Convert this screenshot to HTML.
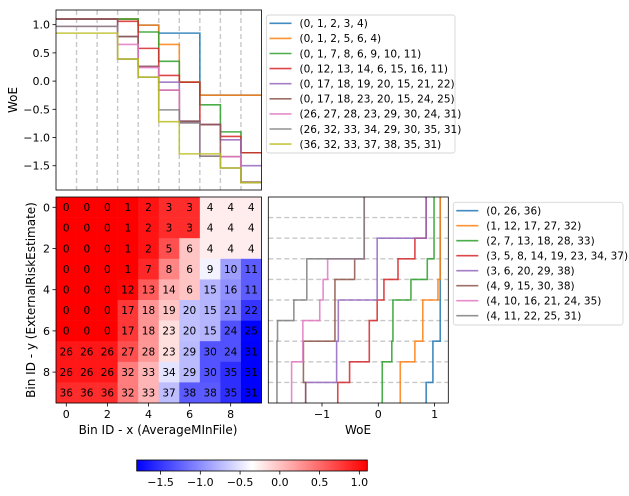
<!DOCTYPE html>
<html><head><meta charset="utf-8"><style>
body{margin:0;background:#fff;}
svg{display:block;font-family:"DejaVu Sans","Liberation Sans",sans-serif;}
</style></head><body>
<svg id="c" width="629" height="496" viewBox="0 0 629 496"></svg>
<script>
const woe = [1.10,1.10,0.99,0.85,-0.25,0.65,-0.02,0.87,0.35,-0.42,-0.90,-1.27,1.06,0.58,0.10,-0.77,-0.98,0.79,0.26,-0.02,-0.71,-1.04,-1.50,-0.16,-1.34,-1.79,0.97,0.65,0.24,-0.74,-1.33,-1.80,0.39,0.07,-0.51,-1.54,0.85,-0.72,-1.29];
const grid = [
[0,0,0,1,2,3,3,4,4,4],
[0,0,0,1,2,3,3,4,4,4],
[0,0,0,1,2,5,6,4,4,4],
[0,0,0,1,7,8,6,9,10,11],
[0,0,0,12,13,14,6,15,16,11],
[0,0,0,17,18,19,20,15,21,22],
[0,0,0,17,18,23,20,15,24,25],
[26,26,26,27,28,23,29,30,24,31],
[26,26,26,32,33,34,29,30,35,31],
[36,36,36,32,33,37,38,38,35,31]];
const topTicks = [1.0,0.5,0.0,-0.5,-1.0,-1.5];
const heatTicks = [0,2,4,6,8];
const rightTicks = [-1,0,1];
const cbTicks = [-1.5,-1.0,-0.5,0.0,0.5,1.0];
const colors = ['#1f77b4','#ff7f0e','#2ca02c','#d62728','#9467bd','#8c564b','#e377c2','#7f7f7f','#bcbd22'];

const NS='http://www.w3.org/2000/svg';
const svg=document.getElementById('c');
function mk(tag,attrs,parent){const e=document.createElementNS(NS,tag);for(const k in attrs)e.setAttribute(k,attrs[k]);(parent||svg).appendChild(e);return e;}
function txt(s,attrs,parent){const e=mk('text',attrs,parent);e.textContent=s;return e;}
function fmt(v){return (v<0?'\u2212':'')+Math.abs(v).toFixed(1);}
function uniqSeq(a){const o=[];a.forEach(v=>{if(!o.includes(v))o.push(v);});return o;}
function seqKey(a){return a.join(',');}

const vmin=Math.min(...woe), vmax=Math.max(...woe);
function bwr(v){let t=(v-vmin)/(vmax-vmin);t=Math.max(0,Math.min(1,t));let r,g,b;
 if(t<0.5){r=2*t;g=2*t;b=1;}else{r=1;g=2*(1-t);b=2*(1-t);}
 return `rgb(${Math.round(r*255)},${Math.round(g*255)},${Math.round(b*255)})`;}
const defs=mk('defs',{});

// heatmap axes
const HL=56,HR=261.5,HT=197,HB=403;
const hx=c=>HL+(c+0.5)*(HR-HL)/10, hy=r=>HT+(r+0.5)*(HB-HT)/10;
const cw=(HR-HL)/10, ch=(HB-HT)/10;
const heat=mk('g',{});


for(let r=0;r<10;r++)for(let c=0;c<10;c++){
 const id=grid[r][c];
 const rc=mk('rect',{x:hx(c)-cw/2,y:hy(r)-ch/2,width:cw+0.3,height:ch+0.3,fill:bwr(woe[id])},heat);
 
 
 const t=txt(String(id),{x:hx(c),y:hy(r)+3.8,'font-size':10.5,'text-anchor':'middle',fill:'#000'},heat);
 
 
}
mk('rect',{x:HL,y:HT,width:HR-HL,height:HB-HT,fill:'none',stroke:'#000','stroke-width':0.8});
heatTicks.forEach(v=>{
 mk('line',{x1:hx(v),x2:hx(v),y1:HB,y2:HB+3.5,stroke:'#000','stroke-width':0.8});
 const t=txt(String(v),{x:hx(v),y:HB+15,'font-size':11,'text-anchor':'middle'});
 
 
 mk('line',{x1:HL-3.5,x2:HL,y1:hy(v),y2:hy(v),stroke:'#000','stroke-width':0.8});
 const t2=txt(String(v),{x:HL-6,y:hy(v)+4,'font-size':11,'text-anchor':'end'});
 
 
});
let lab=txt('Bin ID - x (AverageMInFile)',{x:158,y:434,'font-size':12,'text-anchor':'middle'});

lab=txt('Bin ID - y (ExternalRiskEstimate)',{x:0,y:0,'font-size':12,'text-anchor':'middle',transform:'translate(35,300) rotate(-90)'});


// top step plot
const TL=56,TR=261.5,TT=10,TB=190;
const tymax=1.26,tymin=-1.93;
const tx=c=>TL+(c+0.5)*(TR-TL)/10, ty=v=>TT+(tymax-v)*(TB-TT)/(tymax-tymin);
const ct=mk('clipPath',{id:'ct'},defs);mk('rect',{x:TL,y:TT,width:TR-TL,height:TB-TT},ct);
for(let k=0;k<9;k++){mk('line',{x1:tx(k)+cw/2,x2:tx(k)+cw/2,y1:TT,y2:TB,stroke:'#c8c8c8','stroke-width':1.4,'stroke-dasharray':'5,3'});}
const topG=mk('g',{'clip-path':'url(#ct)'});
const topSeqs=[];
grid.forEach(row=>{const s=uniqSeq(row);if(!topSeqs.some(q=>seqKey(q.seq)===seqKey(s)))topSeqs.push({seq:s,row});});
topSeqs.forEach((o,i)=>{
 let d='';
 o.row.forEach((id,c)=>{const y=ty(woe[id]);d+=(c===0?'M':'L')+(tx(c)-cw/2)+','+y+' L'+(tx(c)+cw/2)+','+y+' ';});
 const p=mk('path',{d,fill:'none',stroke:colors[i],'stroke-width':1.6,'stroke-opacity':0.85},topG);
 
 
});
mk('rect',{x:TL,y:TT,width:TR-TL,height:TB-TT,fill:'none',stroke:'#000','stroke-width':0.8});
topTicks.forEach(v=>{
 mk('line',{x1:TL-3.5,x2:TL,y1:ty(v),y2:ty(v),stroke:'#000','stroke-width':0.8});
 const t=txt(fmt(v),{x:TL-6,y:ty(v)+4,'font-size':11,'text-anchor':'end'});
 
});
lab=txt('WoE',{x:0,y:0,'font-size':12,'text-anchor':'middle',transform:'translate(17,100) rotate(-90)'});


// legend helper
function legend(x,y,w,h,first,gap,labels,name){
 const g=mk('g',{});
 
 
 mk('rect',{x,y,width:w,height:h,rx:2.5,fill:'#fff',stroke:'#d6d6d6','stroke-width':0.9},g);
 labels.forEach((s,i)=>{
  const yy=first+i*gap;
  const e=mk('g',{},g);
  
  
  mk('line',{x1:x+3,x2:x+25,y1:yy,y2:yy,stroke:colors[i],'stroke-width':1.6,'stroke-opacity':0.85},e);
  txt(s,{x:x+33,y:yy+3.8,'font-size':10.5},e);
 });
}
legend(266.5,15,188.5,138,23.3,15.1,topSeqs.map(o=>'('+o.seq.join(', ')+')'),'top-legend');

// right step plot
const RL=268.3,RR=448.3,RT=197,RB=403;
const rx=v=>378.3+v*56.3, ry=r=>RT+(r+0.5)*(RB-RT)/10;
const cr=mk('clipPath',{id:'cr'},defs);mk('rect',{x:RL,y:RT,width:RR-RL,height:RB-RT},cr);
for(let k=0;k<9;k++){mk('line',{x1:RL,x2:RR,y1:ry(k)+ch/2,y2:ry(k)+ch/2,stroke:'#c8c8c8','stroke-width':1.4,'stroke-dasharray':'5,3'});}
const rG=mk('g',{'clip-path':'url(#cr)'});
const colSeqs=[];
for(let c=0;c<10;c++){const col=grid.map(r=>r[c]);const s=uniqSeq(col);if(!colSeqs.some(q=>seqKey(q.seq)===seqKey(s)))colSeqs.push({seq:s,col});}
colSeqs.forEach((o,i)=>{
 let d='';
 o.col.forEach((id,r)=>{const x=rx(woe[id]);d+=(r===0?'M':'L')+x+','+(ry(r)-ch/2)+' L'+x+','+(ry(r)+ch/2)+' ';});
 const p=mk('path',{d,fill:'none',stroke:colors[i],'stroke-width':1.6,'stroke-opacity':0.85},rG);
 
 
});
mk('rect',{x:RL,y:RT,width:RR-RL,height:RB-RT,fill:'none',stroke:'#000','stroke-width':0.8});
rightTicks.forEach(v=>{
 mk('line',{x1:rx(v),x2:rx(v),y1:RB,y2:RB+3.5,stroke:'#000','stroke-width':0.8});
 const t=txt(v<0?'\u2212'+Math.abs(v):String(v),{x:rx(v),y:RB+15,'font-size':11,'text-anchor':'middle'});
 
});
lab=txt('WoE',{x:358,y:434,'font-size':12,'text-anchor':'middle'});

legend(453.3,202.3,169.7,122.7,210.7,15,colSeqs.map(o=>'('+o.seq.join(', ')+')'),'right-legend');

// colorbar
const CL=136.7,CR=367.3,CT=460,CB=471;
const cx=v=>CL+(v-vmin)/(vmax-vmin)*(CR-CL);
const lg=mk('linearGradient',{id:'bwr',x1:0,x2:1,y1:0,y2:0},defs);
mk('stop',{offset:0,'stop-color':'#0000ff'},lg);mk('stop',{offset:0.5,'stop-color':'#ffffff'},lg);mk('stop',{offset:1,'stop-color':'#ff0000'},lg);
const cb=mk('rect',{x:CL,y:CT,width:CR-CL,height:CB-CT,fill:'url(#bwr)',stroke:'#000','stroke-width':0.8});

cbTicks.forEach(v=>{
 mk('line',{x1:cx(v),x2:cx(v),y1:CB,y2:CB+3.5,stroke:'#000','stroke-width':0.8});
 const t=txt(fmt(v),{x:cx(v),y:CB+15,'font-size':11,'text-anchor':'middle'});
 
});
</script>
</body></html>
